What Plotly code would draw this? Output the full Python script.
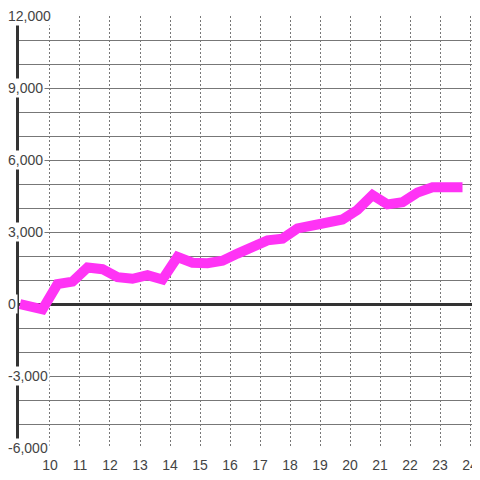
import plotly.graph_objects as go

# half-day samples
x_vals = [9.0, 9.75, 10.25, 10.75, 11.25, 11.75, 12.25, 12.75, 13.25, 13.75,
          14.25, 14.75, 15.25, 15.75, 16.25, 16.75, 17.25, 17.75, 18.25, 18.75,
          19.25, 19.75, 20.25, 20.75, 21.25, 21.75, 22.25, 22.75, 23.25, 23.75]
y_vals = [0, -220, 830, 930, 1520, 1450, 1120, 1050, 1200, 1020,
          1960, 1720, 1700, 1800, 2100, 2420, 2650, 2720, 3150, 3270,
          3380, 3520, 3920, 4540, 4150, 4240, 4640, 4860, 4860, 4860]

x_ticks = list(range(10, 25))
y_label_vals = [-6000, -3000, 0, 3000, 6000, 9000, 12000]

fig = go.Figure()

fig.add_trace(go.Scatter(
    x=x_vals, y=y_vals,
    mode="lines",
    line=dict(color="#ff33f5", width=10, shape="linear"),
    hoverinfo="skip",
))

# y labels sit on a white box over the grid and axis line
for v in y_label_vals:
    fig.add_annotation(
        x=0, xref="paper", y=v, yref="y",
        text=f"{v:,}", showarrow=False,
        xanchor="left", yanchor="middle", xshift=-13,
        bgcolor="white", borderpad=1,
        font=dict(family="Liberation Sans, Arial", size=14, color="#444"),
    )

# page body has an 8px margin; keep the page from scrolling
fig.update_layout(
    width=472, height=464,
    margin=dict(l=11, r=0, t=8, b=24, pad=0),
    paper_bgcolor="white",
    plot_bgcolor="white",
    showlegend=False,
    xaxis=dict(
        range=[8.967, 24.333],
        tickvals=x_ticks,
        ticks="outside",
        ticklen=4,
        tickcolor="rgba(0,0,0,0)",
        showline=False,
        zeroline=False,
        showgrid=True,
        gridcolor="#777",
        gridwidth=1,
        griddash="2px,2px",
        tickfont=dict(family="Liberation Sans, Arial", size=14, color="#444"),
    ),
    yaxis=dict(
        range=[-6000, 12000],
        dtick=1000,
        showticklabels=False,
        ticks="",
        showgrid=True,
        gridcolor="#777",
        gridwidth=1,
        zeroline=True,
        zerolinecolor="#333",
        zerolinewidth=3,
        showline=True,
        linecolor="#333",
        linewidth=3,
    ),
)

fig.write_html("out.html")
